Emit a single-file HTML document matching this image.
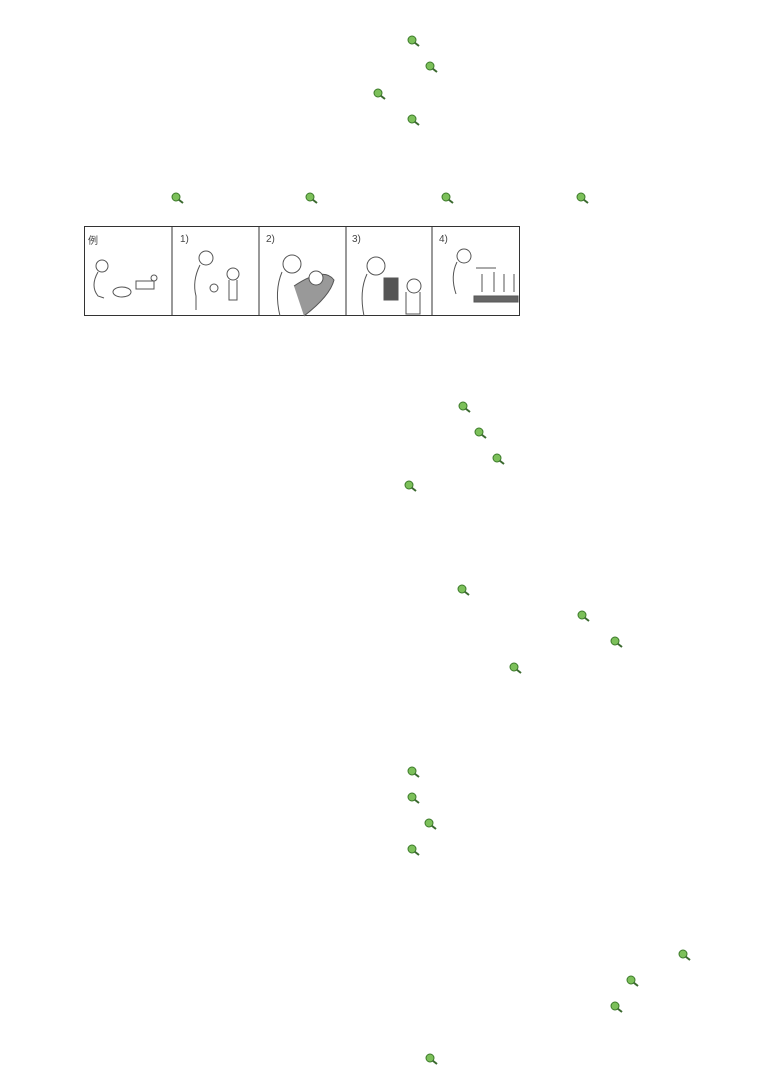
<!DOCTYPE html>
<html><head><meta charset="utf-8"><style>
html,body{margin:0;padding:0;background:#fff;}
body{width:760px;height:1075px;position:relative;overflow:hidden;font-family:"Liberation Sans","Noto Sans CJK JP",sans-serif;}
.key{position:absolute;width:14px;height:12px;}
#comic{position:absolute;left:84px;top:226px;}
</style></head><body>
<svg id="comic" width="437" height="91" viewBox="0 0 437 91">
 <rect x="0.5" y="0.5" width="435" height="89" fill="#fff" stroke="#333" stroke-width="1"/>
 <g stroke="#333" stroke-width="1">
  <line x1="88" y1="0" x2="88" y2="90"/><line x1="175" y1="0" x2="175" y2="90"/>
  <line x1="262" y1="0" x2="262" y2="90"/><line x1="348" y1="0" x2="348" y2="90"/>
 </g>
 <g font-size="10" fill="#444">
  <text x="4" y="18">例</text><text x="96" y="16">1)</text><text x="182" y="16">2)</text>
  <text x="268" y="16">3)</text><text x="355" y="16">4)</text>
 </g>
 <g fill="none" stroke="#555" stroke-width="1">
  <circle cx="18" cy="40" r="6"/><path d="M14 46 Q6 60 14 70 L20 72"/><ellipse cx="38" cy="66" rx="9" ry="5"/>
  <path d="M52 55 h18 v8 h-18z"/><circle cx="70" cy="52" r="3"/>
  <circle cx="122" cy="32" r="7"/><path d="M116 39 Q108 55 112 70 L112 84"/><circle cx="149" cy="48" r="6"/><path d="M145 54 v20 h8 v-20"/><circle cx="130" cy="62" r="4"/>
  <circle cx="208" cy="38" r="9"/><path d="M198 46 Q190 65 196 90"/><path d="M210 60 Q240 40 250 54 Q246 70 220 90" fill="#999"/><circle cx="232" cy="52" r="7" fill="#fff"/>
  <circle cx="292" cy="40" r="9"/><path d="M283 48 Q275 65 280 90"/><rect x="300" y="52" width="14" height="22" fill="#555"/><circle cx="330" cy="60" r="7"/><path d="M322 66 v22 h14 v-22"/>
  <circle cx="380" cy="30" r="7"/><path d="M373 36 Q366 50 372 68"/><path d="M392 42 h20"/><path d="M398 48 v18 M410 46 v20 M420 48 v18 M430 48 v18"/><rect x="390" y="70" width="44" height="6" fill="#666"/>
 </g>
</svg>
<div id="keys"></div>
<script>
const keyX=[414,432,380,414,178,312,448,583,465,481,499,411,464,584,617,516,414,414,431,414,685,633,617,432];
const keyY=[41,67,94,120,198,198,198,198,407,433,459,486,590,616,642,668,772,798,824,850,955,981,1007,1059];
const c=document.getElementById('keys');
for(let i=0;i<keyX.length;i++){
 const s=document.createElementNS('http://www.w3.org/2000/svg','svg');
 
 
 s.setAttribute('class','key');
 s.setAttribute('viewBox','0 0 14 12');
 s.style.left=(keyX[i]-7)+'px';s.style.top=(keyY[i]-6)+'px';
 s.innerHTML='<circle cx="5" cy="5" r="4" fill="#7cc05a" stroke="#3c7a2a" stroke-width="1"/><path d="M7.5 7.5 L12 11" stroke="#3c6a30" stroke-width="2"/>';
 c.appendChild(s);
}
</script>
</body></html>
